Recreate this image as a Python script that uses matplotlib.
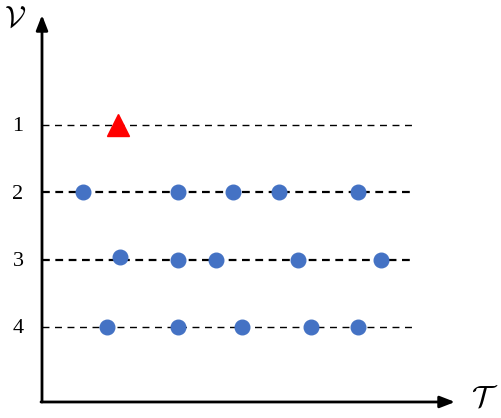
import matplotlib
matplotlib.use("Agg")
import matplotlib.pyplot as plt

# Data
levels = ["1", "2", "3", "4"]
row1_t = [7.6]                      # red triangle on level 1
row2_t = [4.1, 13.6, 19.1, 23.7, 31.6]
row3_t = [7.8, 13.6, 17.4, 25.6, 33.9]
row4_t = [6.5, 13.6, 20.0, 26.9, 31.6]
row3_offsets = [-0.04, 0, 0, 0, 0]

plt.rcParams['mathtext.fontset'] = 'cm'

fig = plt.figure(figsize=(5.02, 4.18), dpi=100)
ax = fig.add_axes([0, 0, 1, 1])
ax.set_xlim(-4.2, 46.0)
ax.set_ylim(5.354, -0.857)
ax.axis('off')

blue = '#4472C4'
line_end = 37.2

# dashed rows
styles = {1: (1.0, (5, 4)), 2: (1.6, (3.5, 2.5)), 3: (1.6, (3.5, 2.5)), 4: (1.0, (5, 4))}
for i, lab in enumerate(levels):
    lv = i + 1
    lw, dash = styles[lv]
    ax.plot([0, line_end], [lv, lv], color='black', lw=lw, linestyle=(0, dash), zorder=1)
    ax.text(-2.4, lv + 0.03, lab, ha='center', va='center', fontsize=16,
            family='Liberation Serif')

# markers
ax.plot(row1_t, [1] * len(row1_t), linestyle='none', marker='^', color='#FF0000',
        markersize=16, zorder=3)
ax.plot(row2_t, [2] * len(row2_t), linestyle='none', marker='o', color=blue,
        markersize=10.5, zorder=3)
ax.plot(row3_t, [3 + o for o in row3_offsets], linestyle='none', marker='o', color=blue,
        markersize=10.5, zorder=3)
ax.plot(row4_t, [4] * len(row4_t), linestyle='none', marker='o', color=blue,
        markersize=10.5, zorder=3)

# axes arrows
y_bottom = 5.116
ax.annotate('', xy=(0, -0.634), xytext=(0, y_bottom),
            arrowprops=dict(arrowstyle='-|>,head_length=0.9,head_width=0.35',
                            color='black', lw=2.0, shrinkA=0, shrinkB=0))
ax.annotate('', xy=(41.3, y_bottom), xytext=(-0.1, y_bottom),
            arrowprops=dict(arrowstyle='-|>,head_length=0.9,head_width=0.35',
                            color='black', lw=2.0, shrinkA=0, shrinkB=0))

ax.text(-2.7, -0.58, r'$\mathcal{V}$', ha='center', va='center', fontsize=22)
ax.text(44.3, 5.05, r'$\mathcal{T}$', ha='center', va='center', fontsize=22)

fig.savefig('out.png', dpi=100)
